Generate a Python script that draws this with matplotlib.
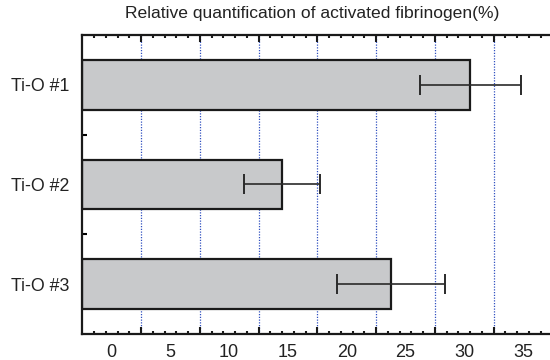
import matplotlib
matplotlib.use("Agg")
import matplotlib.pyplot as plt
import numpy as np

plt.rcParams["font.family"] = ["Liberation Sans", "DejaVu Sans"]

# data (label coordinates as printed on the axis)
samples = ["Ti-O #1", "Ti-O #2", "Ti-O #3"]
values = [30.5, 14.5, 23.8]
errors = [4.3, 3.2, 4.6]
tick_labels = [0, 5, 10, 15, 20, 25, 30, 35]

X_MIN, X_MAX = -2.5, 37.3

fig = plt.figure(figsize=(5.5, 3.6), dpi=100)
ax = fig.add_axes([0.1496, 0.0722, 0.8504, 0.8306])

y = np.arange(len(samples))
vals = np.array(values)
ax.barh(y, vals - X_MIN, left=X_MIN, height=0.5, color="#c8c9cb",
        edgecolor="#1a1a1a", linewidth=1.6, zorder=2)
ax.errorbar(vals, y, xerr=errors, fmt="none", ecolor="#2a2a2a",
            elinewidth=1.2, capsize=7, capthick=1.4, zorder=3)

ax.set_xlim(X_MIN, X_MAX)
ax.set_ylim(len(samples) - 0.5, -0.5)

# ticks sit half a unit off the printed labels, as in the original
ax.set_xticks(np.arange(2.5, 36, 5))
ax.set_xticks(np.arange(-1.5, 37.3, 1), minor=True)
ax.tick_params(axis="x", which="both", direction="in", top=True, bottom=True,
               labelbottom=False, width=1.5, color="#1a1a1a")
ax.tick_params(axis="x", which="major", length=5)
ax.tick_params(axis="x", which="minor", length=2.5)
ax.grid(axis="x", which="major", color="#3050c0", linestyle=(0, (1, 1.2)),
        linewidth=0.9, zorder=1)
ax.set_axisbelow(True)

ax.set_yticks(y)
ax.set_yticklabels(samples, fontsize=12.8, color="#222222")
ax.set_yticks([0.5, 1.5], minor=True)
ax.tick_params(axis="y", which="major", direction="in", length=1.5, width=1,
               pad=9)
ax.tick_params(axis="y", which="minor", direction="in", length=3.5, width=1.5)

sec = ax.secondary_xaxis("bottom")
sec.set_xticks(tick_labels)
sec.set_xticklabels([str(t) for t in tick_labels], fontsize=13, color="#222222")
sec.tick_params(length=0, pad=7)
sec.spines["bottom"].set_visible(False)

for side in ["left", "top", "bottom"]:
    ax.spines[side].set_linewidth(1.6)
    ax.spines[side].set_color("#1a1a1a")
ax.spines["right"].set_visible(False)

fig.text(0.568, 0.962, "Relative quantification of activated fibrinogen(%)",
         ha="center", va="center", fontsize=12.6, color="#222222")

fig.savefig("out.png", dpi=100)
